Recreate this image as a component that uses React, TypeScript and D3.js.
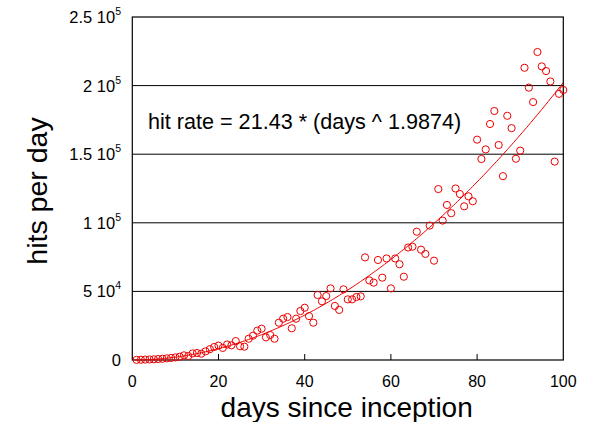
import React from "react";
import * as d3 from "d3";

const days: number[] = Array.from({ length: 100 }, (_, i) => i + 1);
const hits: number[] = [
  100, 200, 300, 400, 500, 700, 900, 1200, 1500, 1900,
  2400, 3400, 2900, 4800, 5100, 4600, 6300, 7900, 9500, 10500,
  8800, 11300, 10700, 13800, 10000, 9700, 15500, 17700, 21400, 22800,
  16500, 18200, 15500, 27200, 30100, 31300, 23100, 30100, 35700, 38100,
  32000, 27200, 47400, 42800, 46600, 52200, 39400, 36500, 51500, 44200,
  44200, 45900, 46400, 74800, 58000, 56400, 72900, 60000, 74000, 52200,
  74000, 69800, 60700, 82000, 82600, 93500, 80400, 77300, 98000, 72400,
  124600, 101600, 113000, 107000, 125000, 121000, 112000, 119300, 115700, 160600,
  146500, 153500, 172000, 181500, 156700, 134000, 178000, 169000, 146700, 152600,
  213000, 198500, 188000, 224500, 214000, 210600, 203000, 144600, 194000, 196800,
];
const fitCoef: number[] = [21.43, 1.9874];
const xTicks: number[] = [0, 20, 40, 60, 80, 100];
const yTicks: number[] = [0, 50000, 100000, 150000, 200000, 250000];
const yTickMantissa: string[] = ["0", "5", "1", "1.5", "2", "2.5"];
const yTickExp: string[] = ["", "4", "5", "5", "5", "5"];

const W = 590, H = 422;
const m = { left: 132.3, right: 563.3, top: 17, bottom: 360 };
const FONT = "'Liberation Sans', Arial, sans-serif";
const RED = "#ee0000";

export default function App() {
  const x = d3.scaleLinear().domain([0, 100]).range([m.left, m.right]);
  const y = d3.scaleLinear().domain([0, 250000]).range([m.bottom, m.top]);
  const curveX = d3.range(0.5, 100.01, 0.5);
  const line = d3
    .line<number>()
    .x((d) => x(d))
    .y((d) => y(fitCoef[0] * Math.pow(d, fitCoef[1])));

  return (
    <svg
      width={W}
      height={H}
      style={{ position: "absolute", left: 0, top: 0, background: "#fff" }}
      fontFamily={FONT}
    >
      {/* gridlines */}
      {yTicks.slice(1, -1).map((t) => (
        <line key={t} x1={m.left} x2={m.right} y1={y(t)} y2={y(t)} stroke="#000" strokeWidth={1} />
      ))}
      {/* x ticks inside */}
      {xTicks.slice(1, -1).map((t) => (
        <line key={t} x1={x(t)} x2={x(t)} y1={m.bottom} y2={m.bottom - 6} stroke="#000" strokeWidth={1} />
      ))}
      {/* frame */}
      <rect x={m.left} y={m.top} width={m.right - m.left} height={m.bottom - m.top} fill="none" stroke="#000" strokeWidth={1.2} />

      {/* fit curve */}
      <path d={line(curveX) || ""} fill="none" stroke={RED} strokeWidth={1} />

      {/* points */}
      {days.map((d, i) => (
        <circle key={d} cx={x(d)} cy={y(hits[i])} r={3.6} fill="none" stroke={RED} strokeWidth={1} />
      ))}

      {/* y tick labels */}
      {yTicks.map((t, i) => (
        <text key={t} x={121} y={y(t) + 6} textAnchor="end" fontSize={16.5} fill="#000">
          {yTickExp[i] ? `${yTickMantissa[i]} 10` : yTickMantissa[i]}
          {yTickExp[i] ? (
            <tspan fontSize={10.5} dy={-8}>{yTickExp[i]}</tspan>
          ) : null}
        </text>
      ))}

      {/* x tick labels */}
      {xTicks.map((t) => (
        <text key={t} x={x(t)} y={386.5} textAnchor="middle" fontSize={16} fill="#000">
          {t}
        </text>
      ))}

      {/* axis titles */}
      <text x={346.7} y={416.5} textAnchor="middle" fontSize={28} fill="#000">
        days since inception
      </text>
      <text transform="translate(46.5,191) rotate(-90)" textAnchor="middle" fontSize={28.5} fill="#000">
        hits per day
      </text>

      {/* annotation */}
      <text x={148} y={129.3} fontSize={21.6} fill="#000">
        hit rate = 21.43 * (days ^ 1.9874)
      </text>
    </svg>
  );
}
